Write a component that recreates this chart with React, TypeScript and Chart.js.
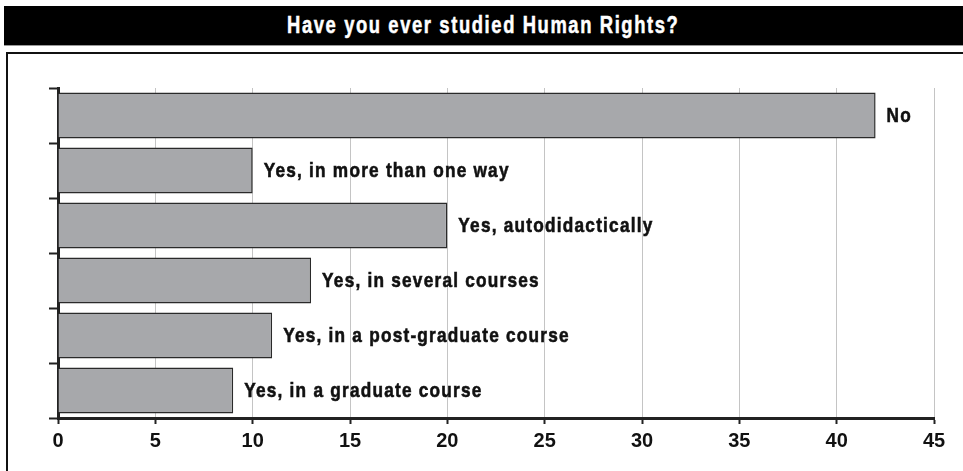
import React, { useEffect, useRef } from "react";
import { Chart, registerables } from "chart.js";

Chart.register(...registerables);

const title = "Have you ever studied Human Rights?";
const categories = [
  "No",
  "Yes, in more than one way",
  "Yes, autodidactically",
  "Yes, in several courses",
  "Yes, in a post-graduate course",
  "Yes, in a graduate course",
];
const values = [42, 10, 20, 13, 11, 9];
const xMin = 0;
const xMax = 45;
const xStep = 5;

const FONT = '"Liberation Sans", Arial, sans-serif';
const SQUEEZE = 0.82;

const barLabelPlugin = {
  id: "barLabels",
  afterDatasetsDraw(chart: any) {
    const ctx = chart.ctx;
    const meta = chart.getDatasetMeta(0);
    meta.data.forEach((el: any, i: number) => {
      ctx.save();
      ctx.font = `bold 21px ${FONT}`;
      (ctx as any).letterSpacing = "1.5px";
      ctx.fillStyle = "#111";
      ctx.strokeStyle = "#111";
      ctx.lineWidth = 0.6;
      ctx.textAlign = "left";
      ctx.textBaseline = "alphabetic";
      ctx.translate(el.x + 11, el.y + 6);
      ctx.scale(SQUEEZE, 1);
      ctx.fillText(categories[i], 0, 0);
      ctx.strokeText(categories[i], 0, 0);
      ctx.restore();
    });
  },
};

export default function App() {
  const ref = useRef<HTMLCanvasElement | null>(null);
  useEffect(() => {
    if (!ref.current) return;
    const chart = new Chart(ref.current, {
      type: "bar",
      data: {
        labels: categories,
        datasets: [
          {
            data: values,
            backgroundColor: "#a7a8ab",
            borderColor: "#2a2a2a",
            borderWidth: 1.5,
            categoryPercentage: 1,
            barPercentage: 0.84,
          },
        ],
      },
      options: {
        indexAxis: "y",
        animation: false,
        responsive: false,
        maintainAspectRatio: false,
        layout: { padding: { left: 0, top: 88, right: 29, bottom: 0 } },
        plugins: {
          legend: { display: false },
          tooltip: { enabled: false },
          title: { display: false },
        },
        scales: {
          x: {
            type: "linear",
            min: xMin,
            max: xMax,
            ticks: {
              stepSize: xStep,
              color: "#111",
              font: { family: FONT, size: 20, weight: "bold" },
              padding: 5,
            },
            grid: {
              color: "#c4c4c4",
              lineWidth: 1,
              tickColor: "#222",
              tickLength: 6,
              tickWidth: 2,
            },
            border: { color: "#222", width: 3 },
            afterFit(scale: any) {
              scale.height = 53;
            },
          },
          y: {
            type: "category",
            offset: true,
            ticks: { display: false },
            grid: {
              offset: true,
              drawOnChartArea: false,
              drawTicks: true,
              tickLength: 9,
              tickColor: "#222",
              tickWidth: 2,
            },
            border: { color: "#222", width: 3 },
            afterFit(scale: any) {
              scale.width = 58;
            },
          },
        },
      },
      plugins: [barLabelPlugin],
    } as any);
    return () => chart.destroy();
  }, []);

  return (
    <div style={{ position: "absolute", left: 0, top: 0, width: 963, height: 471, overflow: "hidden", background: "#fff" }}>
      <div
        style={{
          position: "absolute",
          left: 4,
          top: 6,
          width: 959,
          height: 39,
          background: "#000",
          borderBottom: "1px solid #999",
          display: "flex",
          alignItems: "center",
          justifyContent: "center",
        }}
      >
        <span
          style={{
            display: "inline-block",
            color: "#fff",
            fontFamily: FONT,
            fontWeight: "bold",
            fontSize: 23,
            letterSpacing: "2px",
            transform: "scaleX(0.8)",
            whiteSpace: "nowrap",
            WebkitTextStroke: "0.5px #fff",
          }}
        >
          {title}
        </span>
      </div>
      <div
        style={{
          position: "absolute",
          left: 6,
          top: 52,
          width: 1000,
          height: 500,
          borderTop: "2px solid #111",
          borderLeft: "2px solid #111",
        }}
      />
      <canvas ref={ref} width={963} height={471} style={{ position: "absolute", left: 0, top: 0 }} />
    </div>
  );
}
